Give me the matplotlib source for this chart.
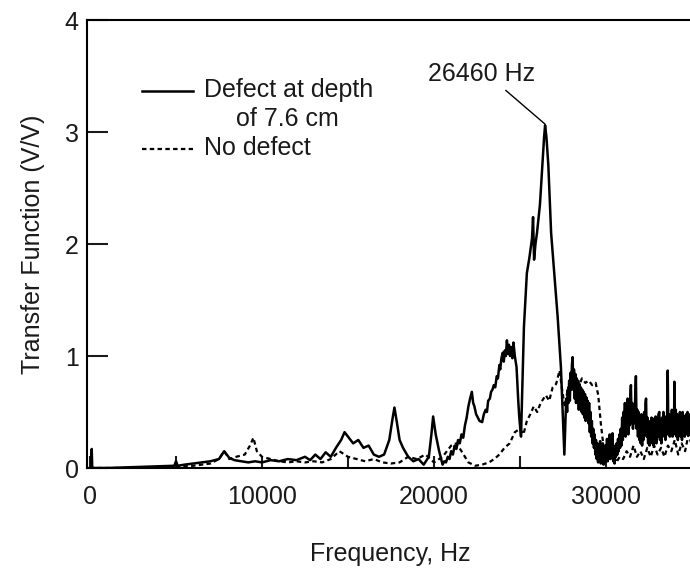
import matplotlib.pyplot as plt
import matplotlib.lines as mlines

plt.rcParams['font.family'] = ['Liberation Sans', 'DejaVu Sans']

# defect at depth of 7.6 cm (solid)
freq_defect = [0, 80, 100, 130, 1000, 2000, 3000, 4000, 4900, 5000, 5100, 5500, 6000, 6500, 7000,
               7500, 7800, 8100, 8400, 8800, 9200, 9600, 10000, 10500, 11000, 11500, 12000, 12500,
               12800, 13100, 13400, 13700, 14000, 14300, 14600, 14800, 15000, 15300, 15600, 15900,
               16200, 16500, 16800, 17100, 17400, 17600, 17700, 17850, 18000, 18200, 18500, 18800,
               19100, 19400, 19700, 19850, 19950, 20100, 20300,
               20500, 20600, 20700, 20800, 20900, 21000, 21100, 21200, 21300, 21400, 21500, 21600,
               21700, 21800, 21900, 22000, 22100, 22200, 22280, 22350, 22450, 22550, 22650, 22800,
               22900, 23000, 23080, 23150, 23250, 23320, 23400, 23480, 23560, 23650, 23720, 23800,
               23850, 23920, 24000, 24060, 24120, 24180, 24240, 24300, 24360, 24420, 24500, 24560,
               24620, 24700, 24800, 24900, 24960, 25060, 25150, 25230, 25400, 25550, 25700, 25760,
               25820, 25900, 25990, 26160, 26300, 26400, 26460, 26540, 26650, 26810, 27000, 27190,
               27380,
               27580, 27620, 27660, 27700, 27740, 27780, 27820, 27860, 27900, 27940, 27980, 28020,
               28060, 28100, 28140, 28180, 28220, 28260, 28300, 28340, 28380, 28420, 28460, 28500,
               28540, 28580, 28620, 28660, 28700, 28740, 28780, 28820, 28860, 28900, 28940, 28980,
               29020, 29060, 29100, 29140, 29180, 29220, 29260, 29300,
               29340, 29380, 29420, 29460, 29500, 29540, 29580, 29620, 29660, 29700, 29740, 29780,
               29820, 29860, 29900, 29940, 29980, 30020, 30060, 30100, 30140, 30180, 30220, 30260,
               30300, 30340, 30380, 30420, 30460, 30500, 30540, 30580, 30620, 30660, 30700, 30740,
               30780, 30820, 30860, 30900,
               30940, 30980, 31020, 31060, 31100, 31140, 31180, 31220, 31260, 31300, 31340, 31380,
               31420, 31450, 31490, 31530, 31570, 31610, 31650, 31690, 31740, 31780, 31820, 31860,
               31900, 31940, 31980, 32020, 32060, 32100, 32140, 32180, 32220, 32260, 32300, 32330,
               32370, 32410, 32450, 32490, 32530, 32570, 32610, 32650, 32690, 32730, 32770, 32810,
               32850, 32890, 32930, 32970, 33010, 33050, 33100, 33140, 33180, 33220, 33260, 33300,
               33340, 33380, 33420, 33460, 33500, 33540, 33590, 33630, 33670, 33710, 33750, 33790,
               33830, 33870, 33910, 33950, 33980, 34020, 34060, 34100, 34140, 34180, 34220, 34260,
               34300, 34340, 34380, 34420, 34460, 34500, 34540, 34580, 34620, 34660, 34700, 34740,
               34780, 34820, 34860, 34900, 34940, 34980, 35000]
tf_defect = [0, 0, 0.17, 0, 0, 0.005, 0.01, 0.015, 0.02, 0.06, 0.02, 0.03, 0.04, 0.05, 0.06,
             0.08, 0.15, 0.09, 0.07, 0.06, 0.05, 0.06, 0.05, 0.07, 0.06, 0.08, 0.07, 0.1,
             0.07, 0.12, 0.08, 0.14, 0.1, 0.18, 0.25, 0.32, 0.28, 0.22, 0.25, 0.18,
             0.2, 0.12, 0.1, 0.12, 0.25, 0.45, 0.54, 0.4, 0.25, 0.18, 0.1, 0.06,
             0.08, 0.03, 0.1, 0.3, 0.46, 0.3, 0.15,
             0.03, 0.06, 0.05, 0.1, 0.08, 0.15, 0.12, 0.2, 0.17, 0.25, 0.22, 0.3,
             0.27, 0.38, 0.45, 0.55, 0.62, 0.68, 0.58, 0.55, 0.48, 0.45, 0.42, 0.41,
             0.48, 0.52, 0.5, 0.6, 0.62, 0.68, 0.7, 0.74, 0.72, 0.82, 0.8, 0.92,
             0.88, 0.98, 1.03, 0.95, 1.05, 1.0, 1.14, 1.02, 1.1, 1.0, 1.08, 0.98,
             1.12, 1.0, 0.9, 0.6, 0.45, 0.28, 0.8, 1.26, 1.74, 1.88, 2.05, 2.24,
             1.86, 2.0, 2.1, 2.35, 2.7, 2.95, 3.06, 2.95, 2.7, 2.1, 1.72, 1.35,
             0.9,
             0.12, 0.3, 0.5, 0.62, 0.5, 0.7, 0.58, 0.78, 0.6, 0.85, 0.7, 0.92,
             0.99, 0.72, 0.88, 0.62, 0.84, 0.58, 0.8, 0.6, 0.78, 0.52, 0.75, 0.55,
             0.72, 0.5, 0.7, 0.48, 0.68, 0.45, 0.66, 0.42, 0.63, 0.46, 0.6, 0.4,
             0.58, 0.32, 0.5, 0.28, 0.42, 0.22, 0.35, 0.18,
             0.3, 0.12, 0.25, 0.08, 0.22, 0.05, 0.2, 0.1, 0.24, 0.04, 0.18, 0.06,
             0.22, 0.03, 0.16, 0.05, 0.2, 0.08, 0.26, 0.06, 0.2, 0.1, 0.3, 0.08,
             0.24, 0.12, 0.31, 0.06, 0.2, 0.04, 0.18, 0.1, 0.22, 0.12, 0.26, 0.15,
             0.3, 0.18, 0.35, 0.2,
             0.45, 0.25, 0.5, 0.3, 0.58, 0.28, 0.52, 0.35, 0.62, 0.3, 0.55, 0.38,
             0.65, 0.74, 0.4, 0.58, 0.35, 0.55, 0.4, 0.6, 0.82, 0.35, 0.52, 0.28,
             0.5, 0.25, 0.45, 0.22, 0.48, 0.2, 0.42, 0.25, 0.5, 0.3, 0.58, 0.62,
             0.28, 0.45, 0.22, 0.42, 0.2, 0.4, 0.25, 0.45, 0.22, 0.44, 0.2, 0.4,
             0.25, 0.46, 0.22, 0.44, 0.28, 0.48, 0.5, 0.25, 0.42, 0.22, 0.45, 0.28,
             0.5, 0.3, 0.46, 0.25, 0.45, 0.3, 0.87, 0.3, 0.48, 0.28, 0.45, 0.3,
             0.52, 0.28, 0.45, 0.3, 0.77, 0.35, 0.52, 0.28, 0.48, 0.25, 0.45, 0.3,
             0.5, 0.28, 0.48, 0.25, 0.5, 0.3, 0.46, 0.28, 0.44, 0.48, 0.3, 0.5,
             0.32, 0.48, 0.3, 0.45, 0.35, 0.42, 0.4]

# no defect (dashed)
freq_nodefect = [0, 2000, 5000, 6000, 7000, 7500, 7800, 8100, 8500, 9000, 9300, 9500, 9700, 10000,
                 10500, 11000, 11500, 12000, 12500, 13000, 13500, 14000, 14500, 15000, 15500,
                 16000, 16500, 17000, 17500, 18000, 18500, 19000, 19500, 20000, 20500, 21000,
                 21300, 21600, 22000, 22400, 22800, 23200, 23500, 23800, 24100, 24400, 24700,
                 25000, 25200, 25400, 25600, 25800, 26000, 26200, 26500, 26700, 26900, 27100,
                 27300, 27450, 27600, 27800, 28000, 28200, 28400, 28600, 28800, 29000, 29200,
                 29400, 29550, 29700, 29850, 30000, 30200, 30400, 30600, 30800, 31000, 31200,
                 31400, 31600, 31800, 32000, 32200, 32400, 32600, 32800, 33000, 33200, 33400,
                 33600, 33800, 34000, 34200, 34400, 34600, 34800, 35000]
tf_nodefect = [0, 0, 0.01, 0.02, 0.04, 0.08, 0.15, 0.08, 0.1, 0.12, 0.2, 0.27, 0.15, 0.1,
               0.08, 0.06, 0.05, 0.06, 0.05, 0.06, 0.05, 0.08, 0.15, 0.1, 0.08,
               0.06, 0.08, 0.05, 0.04, 0.05, 0.1, 0.08, 0.12, 0.05, 0.1, 0.2,
               0.22, 0.15, 0.05, 0.02, 0.03, 0.05, 0.08, 0.12, 0.18, 0.22, 0.32,
               0.35, 0.3, 0.42, 0.48, 0.55, 0.5, 0.58, 0.65, 0.6, 0.72, 0.75,
               0.87, 0.7, 0.55, 0.72, 0.68, 0.78, 0.72, 0.8, 0.76, 0.78, 0.74,
               0.76, 0.65, 0.4, 0.2, 0.1, 0.08, 0.15, 0.05, 0.1, 0.08, 0.15,
               0.1, 0.2, 0.1, 0.15, 0.08, 0.18, 0.1, 0.2, 0.12, 0.18, 0.1,
               0.2, 0.15, 0.25, 0.12, 0.22, 0.15, 0.3, 0.2]

peak_freq = 26460
peak_val = 3.06

txt = '#1a1a1a'
fig = plt.figure(figsize=(6.9, 5.68), dpi=100)
ax = fig.add_axes([87 / 690, 1 - 468 / 568, 606 / 690, 448 / 568])

ax.plot(freq_defect, tf_defect, color='black', lw=1.8)
ax.plot(freq_nodefect, tf_nodefect, color='black', lw=1.6, linestyle=(0, (2, 1.5)))

ax.set_xlim(-175, 35060)
ax.set_ylim(0, 4)
ax.set_xticks([0, 10000, 20000, 30000])
ax.set_xticks([5000, 15000, 25000], minor=True)
ax.set_yticks([0, 1, 2, 3, 4])
ax.spines['right'].set_visible(False)
for s in ['left', 'bottom', 'top']:
    ax.spines[s].set_linewidth(1.5)
ax.tick_params(axis='y', direction='in', length=15, width=1.5, labelsize=18, pad=6, colors=txt)
ax.tick_params(axis='x', which='both', direction='in', length=9, width=1.5, labelsize=18, pad=12,
               colors=txt)
ax.set_xlabel('Frequency, Hz', fontsize=18, color=txt, labelpad=24)
ax.set_ylabel('Transfer Function (V/V)', fontsize=18, color=txt, labelpad=14)

ax.annotate('26460 Hz', xy=(peak_freq, peak_val + 0.01), xytext=(22740, 3.52),
            ha='center', va='center', fontsize=18, color=txt,
            arrowprops=dict(arrowstyle='-', lw=1, color='black', relpos=(0.68, 0),
                            shrinkA=2, shrinkB=0))

# legend drawn by hand
ax.add_line(mlines.Line2D([0.091, 0.175], [0.8415, 0.8415], transform=ax.transAxes,
                          color='black', lw=1.8))
ax.add_line(mlines.Line2D([0.091, 0.175], [0.712, 0.712], transform=ax.transAxes,
                          color='black', lw=1.6, linestyle=(0, (2, 1.5))))
ax.text(0.193, 0.844, 'Defect at depth', transform=ax.transAxes, fontsize=18, color=txt,
        va='center', ha='left')
ax.text(0.246, 0.779, 'of 7.6 cm', transform=ax.transAxes, fontsize=18, color=txt,
        va='center', ha='left')
ax.text(0.193, 0.714, 'No defect', transform=ax.transAxes, fontsize=18, color=txt,
        va='center', ha='left')

fig.savefig('out.png', dpi=100)
